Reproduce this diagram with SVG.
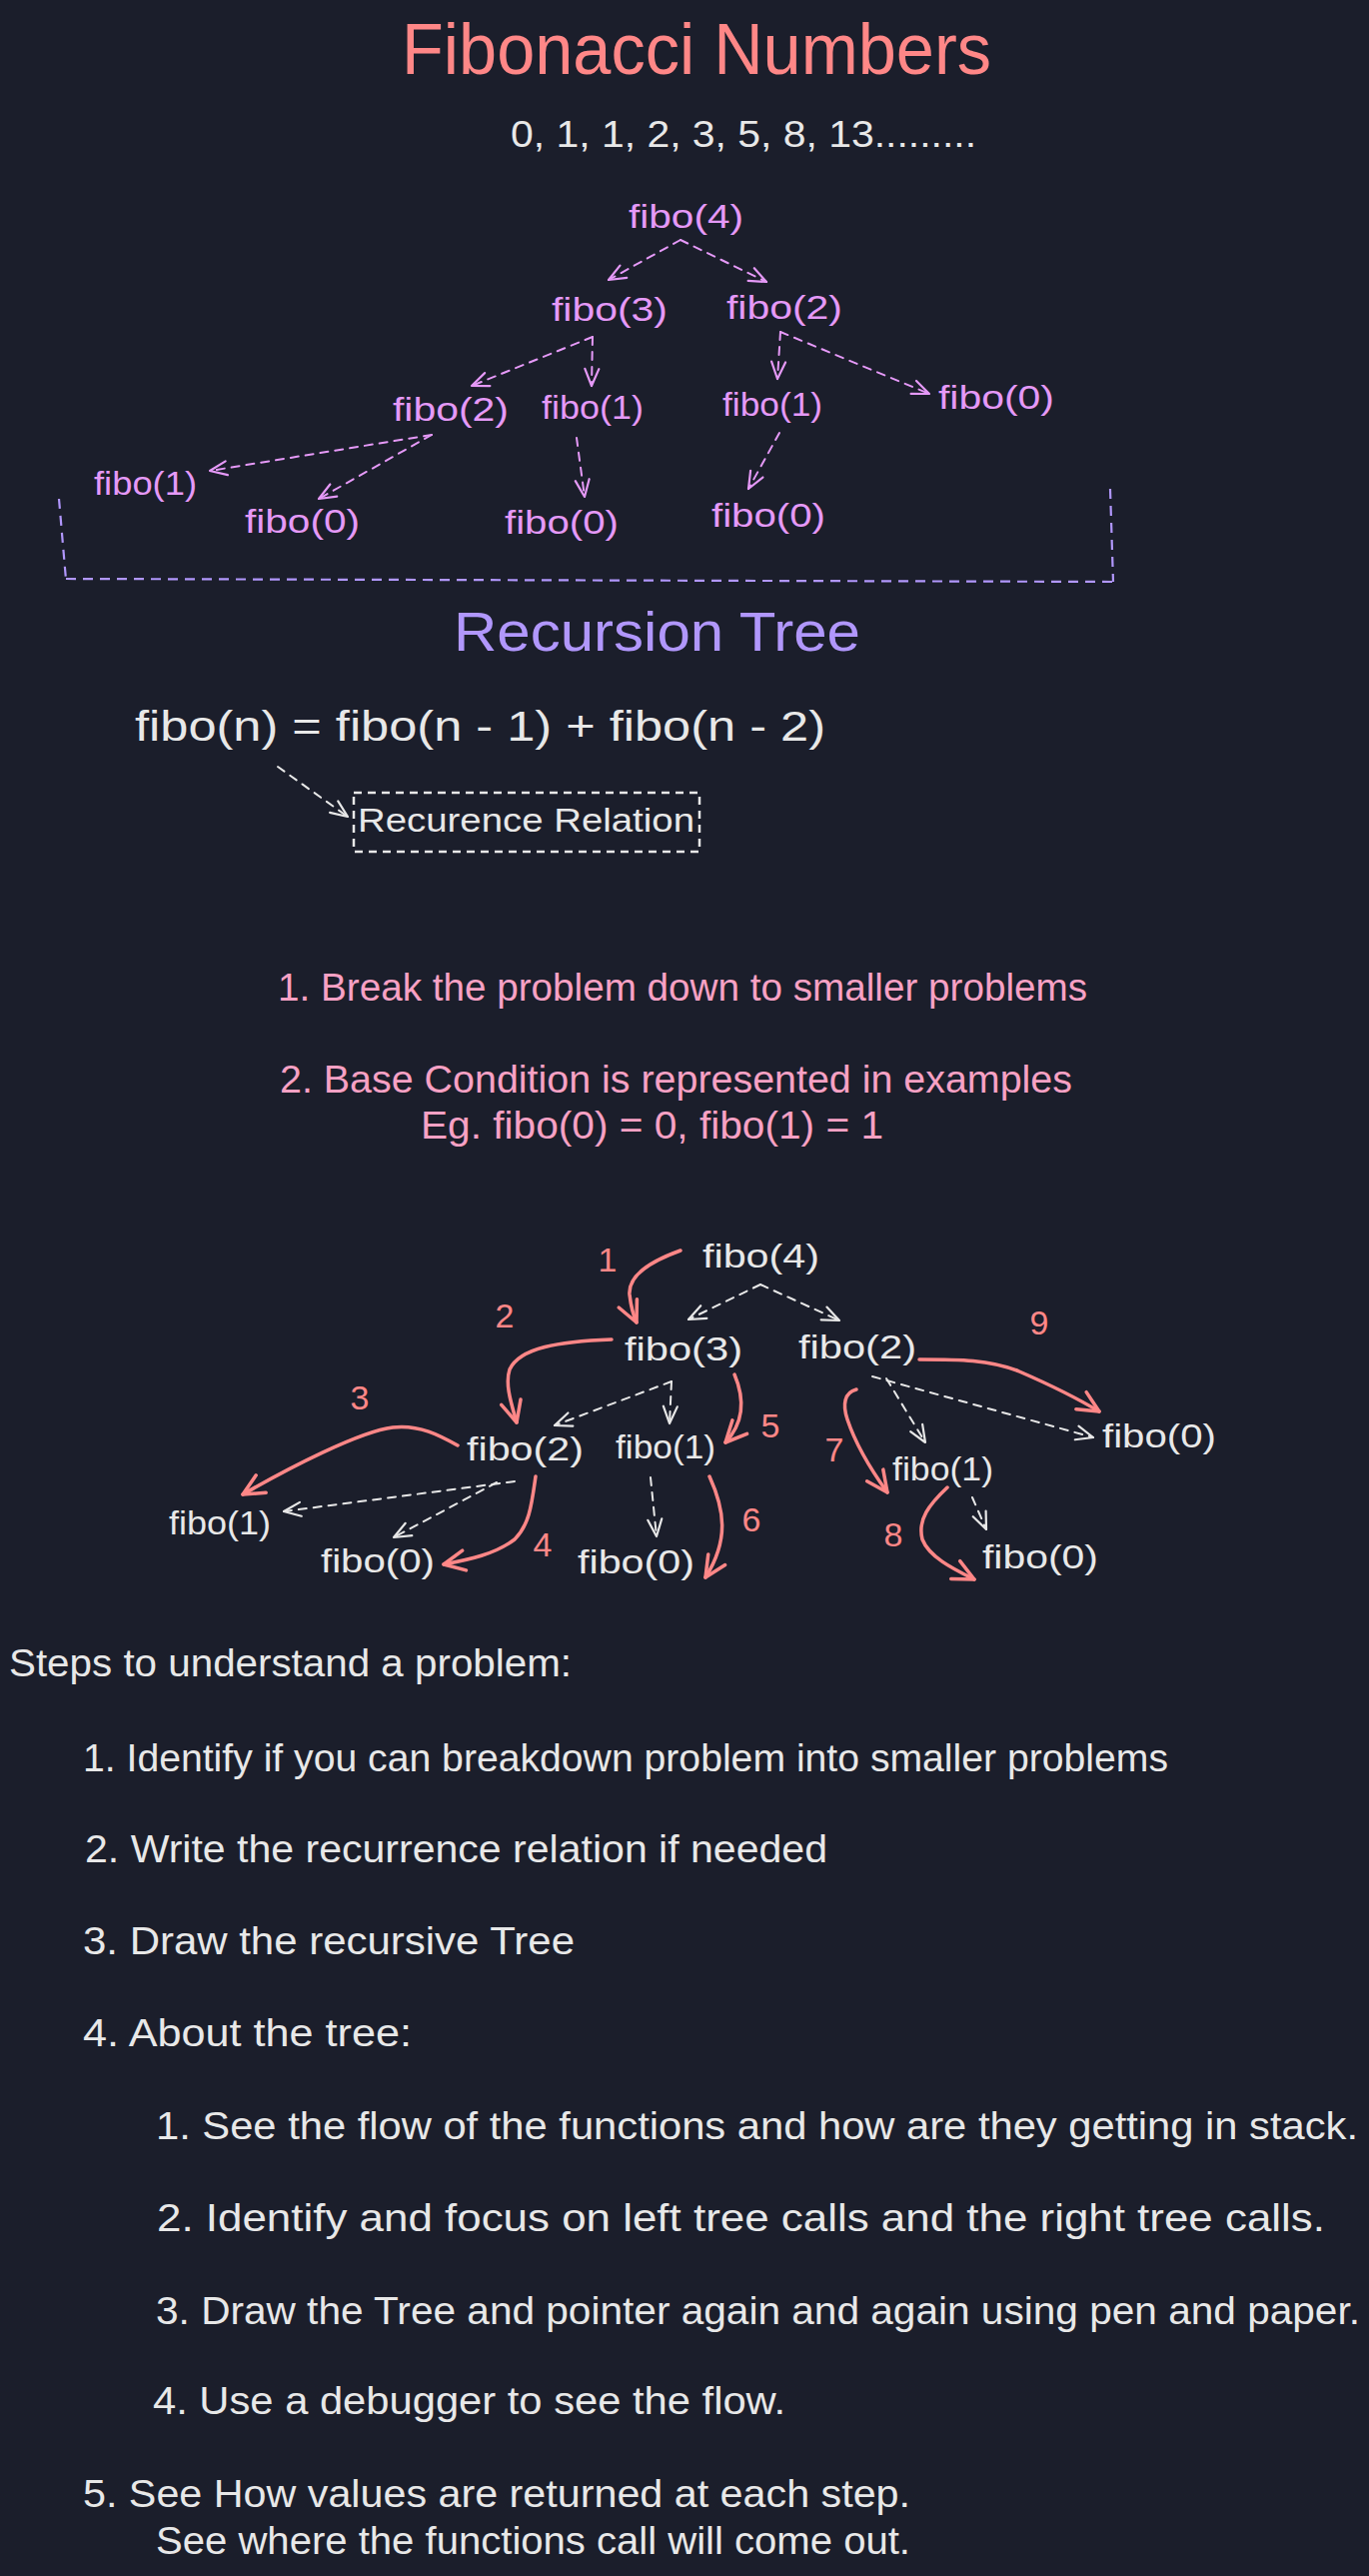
<svg xmlns="http://www.w3.org/2000/svg" width="1370" height="2577" viewBox="0 0 1370 2577">
<style>
text{font-family:"Liberation Sans",Arial,sans-serif}
.w{fill:#e8e8e8}
.p{fill:#e599f7}
.r{fill:#ff8787}
.pk{fill:#f7a1c4}
.lv{fill:#b197fc}
.n{font-size:34px}
.b{font-size:38px}
.num{font-size:34px;text-anchor:middle}
.dp{fill:none;stroke:#e599f7;stroke-width:2;stroke-dasharray:8 7;stroke-linecap:round}
.dw{fill:none;stroke:#e8e8e8;stroke-width:2;stroke-dasharray:8 7;stroke-linecap:round}
.dl{fill:none;stroke:#b197fc;stroke-width:2.2;stroke-dasharray:10 7}
.ra{fill:none;stroke:#ff8787;stroke-width:3.5;stroke-linecap:round}
</style>
<defs>
<marker id="mp" markerUnits="userSpaceOnUse" orient="auto" refX="0" refY="0" markerWidth="30" markerHeight="30" viewBox="-25 -15 30 30" overflow="visible">
<path d="M-17,-7 L0,0 L-17,7" fill="none" stroke="#e599f7" stroke-width="2.2" stroke-linecap="round" stroke-linejoin="round"/>
</marker>
<marker id="mw" markerUnits="userSpaceOnUse" orient="auto" refX="0" refY="0" markerWidth="30" markerHeight="30" viewBox="-25 -15 30 30" overflow="visible">
<path d="M-17,-7 L0,0 L-17,7" fill="none" stroke="#e8e8e8" stroke-width="2.2" stroke-linecap="round" stroke-linejoin="round"/>
</marker>
<marker id="mr" markerUnits="userSpaceOnUse" orient="auto" refX="0" refY="0" markerWidth="30" markerHeight="30" viewBox="-25 -15 30 30" overflow="visible">
<path d="M-21,-10 L0,0 L-21,10" fill="none" stroke="#ff8787" stroke-width="3.5" stroke-linecap="round" stroke-linejoin="round"/>
</marker>
</defs>
<rect width="1370" height="2577" fill="#1b1e2b"/>

<g id="header">
<text class="r" x="402" y="74" font-size="72" textLength="590" lengthAdjust="spacingAndGlyphs">Fibonacci Numbers</text>
<text class="w" x="511" y="147" font-size="37" textLength="466" lengthAdjust="spacingAndGlyphs">0, 1, 1, 2, 3, 5, 8, 13.........</text>
</g>

<g id="tree1-nodes">
<g id="t1-fibo4"><text class="p n" x="629" y="228" textLength="115" lengthAdjust="spacingAndGlyphs">fibo(4)</text></g>
<g id="t1-fibo3"><text class="p n" x="552" y="321" textLength="116" lengthAdjust="spacingAndGlyphs">fibo(3)</text></g>
<g id="t1-fibo2a"><text class="p n" x="727" y="319" textLength="116" lengthAdjust="spacingAndGlyphs">fibo(2)</text></g>
<g id="t1-fibo2b"><text class="p n" x="393" y="421" textLength="116" lengthAdjust="spacingAndGlyphs">fibo(2)</text></g>
<g id="t1-fibo1a"><text class="p n" x="542" y="419" textLength="102" lengthAdjust="spacingAndGlyphs">fibo(1)</text></g>
<g id="t1-fibo1b"><text class="p n" x="723" y="416" textLength="100" lengthAdjust="spacingAndGlyphs">fibo(1)</text></g>
<g id="t1-fibo0a"><text class="p n" x="939" y="409" textLength="116" lengthAdjust="spacingAndGlyphs">fibo(0)</text></g>
<g id="t1-fibo1c"><text class="p n" x="94" y="495" textLength="103" lengthAdjust="spacingAndGlyphs">fibo(1)</text></g>
<g id="t1-fibo0b"><text class="p n" x="245" y="533" textLength="115" lengthAdjust="spacingAndGlyphs">fibo(0)</text></g>
<g id="t1-fibo0c"><text class="p n" x="505" y="534" textLength="114" lengthAdjust="spacingAndGlyphs">fibo(0)</text></g>
<g id="t1-fibo0d"><text class="p n" x="712" y="527" textLength="114" lengthAdjust="spacingAndGlyphs">fibo(0)</text></g>
</g>

<g id="tree1-connectors">
<path class="dp" d="M681,240 L609,280" marker-end="url(#mp)"/>
<path class="dp" d="M681,240 L767,282" marker-end="url(#mp)"/>
<path class="dp" d="M593,337 L472,386" marker-end="url(#mp)"/>
<path class="dp" d="M593,337 L592,386" marker-end="url(#mp)"/>
<path class="dp" d="M781,332 L778,379" marker-end="url(#mp)"/>
<path class="dp" d="M781,332 L930,394" marker-end="url(#mp)"/>
<path class="dp" d="M432,435 L210,471" marker-end="url(#mp)"/>
<path class="dp" d="M432,435 L319,499" marker-end="url(#mp)"/>
<path class="dp" d="M577,438 L585,497" marker-end="url(#mp)"/>
<path class="dp" d="M780,433 L749,489" marker-end="url(#mp)"/>
</g>

<g id="bracket">
<path class="dl" d="M59,499 L66,580"/>
<path class="dl" d="M66,579 L1114,582"/>
<path class="dl" d="M1111,489 L1114,582"/>
</g>

<g id="recursion-title">
<text class="lv" x="454" y="651" font-size="56" textLength="407" lengthAdjust="spacingAndGlyphs">Recursion Tree</text>
</g>

<g id="formula">
<text class="w" x="135" y="741" font-size="42" textLength="691" lengthAdjust="spacingAndGlyphs">fibo(n) = fibo(n - 1) + fibo(n - 2)</text>
</g>

<g id="recurrence-box">
<rect x="354" y="793" width="346" height="59" fill="none" stroke="#e8e8e8" stroke-width="2.5" stroke-dasharray="8 6"/>
<text class="w" x="358" y="832" font-size="33" textLength="337" lengthAdjust="spacingAndGlyphs">Recurence Relation</text>
</g>

<g id="formula-connector">
<path class="dw" d="M278,767 L348,817" stroke-width="2.5" marker-end="url(#mw)"/>
</g>

<g id="notes">
<text class="pk b" x="278" y="1001" textLength="810" lengthAdjust="spacingAndGlyphs">1. Break the problem down to smaller problems</text>
<text class="pk b" x="280" y="1093" textLength="793" lengthAdjust="spacingAndGlyphs">2. Base Condition is represented in examples</text>
<text class="pk b" x="421" y="1139" textLength="463" lengthAdjust="spacingAndGlyphs">Eg. fibo(0) = 0, fibo(1) = 1</text>
</g>

<g id="tree2-nodes">
<g id="t2-fibo4"><text class="w n" x="703" y="1268" textLength="117" lengthAdjust="spacingAndGlyphs">fibo(4)</text></g>
<g id="t2-fibo3"><text class="w n" x="625" y="1361" textLength="118" lengthAdjust="spacingAndGlyphs">fibo(3)</text></g>
<g id="t2-fibo2a"><text class="w n" x="799" y="1359" textLength="118" lengthAdjust="spacingAndGlyphs">fibo(2)</text></g>
<g id="t2-fibo2b"><text class="w n" x="467" y="1461" textLength="117" lengthAdjust="spacingAndGlyphs">fibo(2)</text></g>
<g id="t2-fibo1a"><text class="w n" x="616" y="1459" textLength="100" lengthAdjust="spacingAndGlyphs">fibo(1)</text></g>
<g id="t2-fibo0a"><text class="w n" x="1103" y="1448" textLength="114" lengthAdjust="spacingAndGlyphs">fibo(0)</text></g>
<g id="t2-fibo1b"><text class="w n" x="893" y="1481" textLength="101" lengthAdjust="spacingAndGlyphs">fibo(1)</text></g>
<g id="t2-fibo1c"><text class="w n" x="169" y="1535" textLength="102" lengthAdjust="spacingAndGlyphs">fibo(1)</text></g>
<g id="t2-fibo0b"><text class="w n" x="321" y="1573" textLength="114" lengthAdjust="spacingAndGlyphs">fibo(0)</text></g>
<g id="t2-fibo0c"><text class="w n" x="578" y="1574" textLength="117" lengthAdjust="spacingAndGlyphs">fibo(0)</text></g>
<g id="t2-fibo0d"><text class="w n" x="983" y="1569" textLength="116" lengthAdjust="spacingAndGlyphs">fibo(0)</text></g>
</g>

<g id="tree2-connectors">
<path class="dw" d="M761,1285 L689,1320" marker-end="url(#mw)"/>
<path class="dw" d="M761,1285 L840,1321" marker-end="url(#mw)"/>
<path class="dw" d="M672,1382 L555,1426" marker-end="url(#mw)"/>
<path class="dw" d="M672,1382 L670,1424" marker-end="url(#mw)"/>
<path class="dw" d="M887,1379 L926,1443" marker-end="url(#mw)"/>
<path class="dw" d="M873,1377 L1094,1438" marker-end="url(#mw)"/>
<path class="dw" d="M515,1482 L284,1512" marker-end="url(#mw)"/>
<path class="dw" d="M497,1483 L394,1538" marker-end="url(#mw)"/>
<path class="dw" d="M651,1478 L657,1537" marker-end="url(#mw)"/>
<path class="dw" d="M973,1498 L987,1530" marker-end="url(#mw)"/>
</g>

<g id="flow-arrows">
<path class="ra" d="M681,1251 Q628,1270 630,1295 Q632,1312 637,1323" marker-end="url(#mr)"/>
<path class="ra" d="M612,1340 C560,1342 520,1348 510,1370 C505,1385 512,1405 517,1423" marker-end="url(#mr)"/>
<path class="ra" d="M458,1446 C440,1436 420,1425 393,1428 C360,1432 290,1468 243,1495" marker-end="url(#mr)"/>
<path class="ra" d="M536,1477 C532,1505 530,1525 515,1540 C495,1555 470,1560 444,1565" marker-end="url(#mr)"/>
<path class="ra" d="M735,1375 Q752,1415 726,1443" marker-end="url(#mr)"/>
<path class="ra" d="M710,1477 C725,1510 730,1540 706,1578" marker-end="url(#mr)"/>
<path class="ra" d="M857,1390 C845,1393 843,1405 848,1420 C858,1450 875,1475 888,1493" marker-end="url(#mr)"/>
<path class="ra" d="M948,1488 C930,1505 918,1520 923,1540 C930,1558 955,1570 975,1580" marker-end="url(#mr)"/>
<path class="ra" d="M920,1360 C960,1360 990,1360 1020,1372 C1050,1385 1080,1400 1100,1412" marker-end="url(#mr)"/>
</g>

<g id="flow-numbers">
<text class="r num" x="608" y="1272">1</text>
<text class="r num" x="505" y="1328">2</text>
<text class="r num" x="360" y="1410">3</text>
<text class="r num" x="543" y="1557">4</text>
<text class="r num" x="771" y="1438">5</text>
<text class="r num" x="752" y="1532">6</text>
<text class="r num" x="835" y="1462">7</text>
<text class="r num" x="894" y="1547">8</text>
<text class="r num" x="1040" y="1335">9</text>
</g>

<g id="steps">
<text class="w b" x="9" y="1677" textLength="563" lengthAdjust="spacingAndGlyphs">Steps to understand a problem:</text>
<text class="w b" x="83" y="1772" textLength="1086" lengthAdjust="spacingAndGlyphs">1. Identify if you can breakdown problem into smaller problems</text>
<text class="w b" x="85" y="1863" textLength="743" lengthAdjust="spacingAndGlyphs">2. Write the recurrence relation if needed</text>
<text class="w b" x="83" y="1955" textLength="492" lengthAdjust="spacingAndGlyphs">3. Draw the recursive Tree</text>
<text class="w b" x="83" y="2047" textLength="329" lengthAdjust="spacingAndGlyphs">4. About the tree:</text>
<text class="w b" x="156" y="2140" textLength="1203" lengthAdjust="spacingAndGlyphs">1. See the flow of the functions and how are they getting in stack.</text>
<text class="w b" x="157" y="2232" textLength="1169" lengthAdjust="spacingAndGlyphs">2. Identify and focus on left tree calls and the right tree calls.</text>
<text class="w b" x="156" y="2325" textLength="1205" lengthAdjust="spacingAndGlyphs">3. Draw the Tree and pointer again and again using pen and paper.</text>
<text class="w b" x="153" y="2415" textLength="633" lengthAdjust="spacingAndGlyphs">4. Use a debugger to see the flow.</text>
<text class="w b" x="83" y="2508" textLength="828" lengthAdjust="spacingAndGlyphs">5. See How values are returned at each step.</text>
<text class="w b" x="156" y="2555" textLength="755" lengthAdjust="spacingAndGlyphs">See where the functions call will come out.</text>
</g>
</svg>
